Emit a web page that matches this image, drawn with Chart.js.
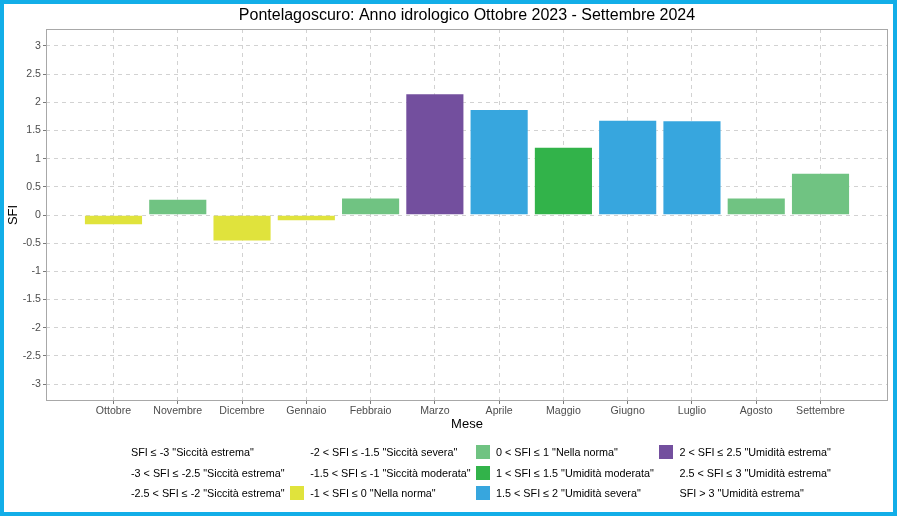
<!DOCTYPE html>
<html>
<head>
<meta charset="utf-8">
<script src="https://cdn.jsdelivr.net/npm/chart.js@4.4.1/dist/chart.umd.min.js"></script>
<style>
  body { margin: 0; background: #fff; font-family: "Liberation Sans", Arial, sans-serif; }
  #wrap { position: relative; width: 897px; height: 516px; }
  #frame { position: absolute; left: 0; top: 0; width: 897px; height: 516px; box-sizing: border-box;
           border: 4px solid #12aee8; pointer-events: none; }
  #legend { position: absolute; left: 111px; top: 441.7px; display: grid; grid-template-rows: repeat(3, 20.6px);
            grid-auto-flow: column; column-gap: 5.5px; font-size: 10.8px; color: #000; }
  .item { display: flex; align-items: center; white-space: nowrap; }
  .key { width: 14px; height: 14px; margin-right: 6px; flex: none; }
</style>
</head>
<body>
<div id="wrap">
  <canvas id="sfiChart"></canvas>
  <div id="legend"></div>
  <div id="frame"></div>
</div>
<script>
const titleText = 'Pontelagoscuro: Anno idrologico Ottobre 2023 - Settembre 2024';
const months = ['Ottobre', 'Novembre', 'Dicembre', 'Gennaio', 'Febbraio', 'Marzo',
                'Aprile', 'Maggio', 'Giugno', 'Luglio', 'Agosto', 'Settembre'];
const sfi = [-0.18, 0.29, -0.47, -0.11, 0.31, 2.16, 1.88, 1.21, 1.69, 1.68, 0.31, 0.75];
const yTicks = [-3, -2.5, -2, -1.5, -1, -0.5, 0, 0.5, 1, 1.5, 2, 2.5, 3];

// SFI classes (legend is filled column by column, 3 rows)
const classLabels = [
  'SFI ≤ -3 "Siccità estrema"',
  '-3 < SFI ≤ -2.5 "Siccità estrema"',
  '-2.5 < SFI ≤ -2 "Siccità estrema"',
  '-2 < SFI ≤ -1.5 "Siccità severa"',
  '-1.5 < SFI ≤ -1 "Siccità moderata"',
  '-1 < SFI ≤ 0 "Nella norma"',
  '0 < SFI ≤ 1 "Nella norma"',
  '1 < SFI ≤ 1.5 "Umidità moderata"',
  '1.5 < SFI ≤ 2 "Umidità severa"',
  '2 < SFI ≤ 2.5 "Umidità estrema"',
  '2.5 < SFI ≤ 3 "Umidità estrema"',
  'SFI > 3 "Umidità estrema"'
];
const classUpper = [-3, -2.5, -2, -1.5, -1, 0, 1, 1.5, 2, 2.5, 3, Infinity];
const classColors = [null, null, null, null, null, '#e0e33c', '#70c382', '#32b34a', '#37a6de', '#734f9e', null, null];

const classOf = v => classUpper.findIndex(u => v <= u);

// Legend
const legend = document.getElementById('legend');
classLabels.forEach((label, i) => {
    const bg = classColors[i] ? `background:${classColors[i]}` : '';
    legend.innerHTML += `<div class="item"><span class="key" style="${bg}"></span><span>${label}</span></div>`;
});

const panelTitle = {
    id: 'panelTitle',
    afterDraw(chart) {
        const { ctx, chartArea } = chart;
        ctx.save();
        ctx.font = '16px "Liberation Sans", Arial, sans-serif';
        ctx.fillStyle = '#000';
        ctx.textAlign = 'center';
        ctx.textBaseline = 'middle';
        ctx.fillText(titleText, (chartArea.left + chartArea.right) / 2, chartArea.top - 13.5);
        ctx.restore();
    }
};

const panelBorder = {
    id: 'panelBorder',
    afterDatasetsDraw(chart) {
        const { ctx, chartArea: a } = chart;
        ctx.save();
        ctx.strokeStyle = '#a8a8a8';
        ctx.lineWidth = 1;
        ctx.strokeRect(Math.round(a.left) + 0.5, Math.round(a.top) + 0.5,
                       Math.round(a.right - a.left) - 1, Math.round(a.bottom - a.top) - 1);
        ctx.restore();
    }
};

const font = '"Liberation Sans", Arial, sans-serif';
const gridOpts = { color: '#d2d2d2', lineWidth: 1, offset: false, drawTicks: true, tickLength: 3, tickColor: '#7a7a7a', tickBorderDash: [] };

const ctx = document.getElementById('sfiChart').getContext('2d');
new Chart(ctx, {
    type: 'bar',
    data: {
        datasets: [{
            data: sfi.map((v, i) => ({ x: i + 1, y: v })),
            backgroundColor: sfi.map(v => classColors[classOf(v)]),
            borderColor: 'rgba(255,255,255,0.4)',
            borderWidth: 1,
            categoryPercentage: 1,
            barPercentage: 0.92
        }]
    },
    options: {
        responsive: true, maintainAspectRatio: false, animation: false,
        layout: { padding: { top: 29, right: 9, bottom: 82, left: 4 } },
        plugins: { legend: { display: false }, tooltip: { enabled: false } },
        scales: {
            x: {
                type: 'linear', min: -0.05, max: 13.05, offset: false,
                afterBuildTicks: axis => { axis.ticks = months.map((m, i) => ({ value: i + 1 })); },
                afterFit: axis => { axis.height = 33; },
                grid: gridOpts,
                border: { display: false, dash: [4, 4] },
                ticks: {
                    autoSkip: false, maxRotation: 0, padding: 1, color: '#4d4d4d',
                    font: { family: font, size: 10.6 },
                    callback: v => months[v - 1] || ''
                },
                title: { display: true, text: 'Mese', color: '#000', font: { family: font, size: 13 }, padding: { top: 0, bottom: 2 } }
            },
            y: {
                min: -3.3, max: 3.3,
                afterBuildTicks: axis => { axis.ticks = yTicks.map(v => ({ value: v })); },
                afterFit: axis => { axis.width = 42; },
                grid: gridOpts,
                border: { display: false, dash: [4, 4] },
                ticks: {
                    padding: 2, color: '#4d4d4d',
                    font: { family: font, size: 10.6 },
                    callback: v => String(v)
                },
                title: { display: true, text: 'SFI', color: '#000', font: { family: font, size: 13 }, padding: { top: 1.5, bottom: 0 } }
            }
        }
    },
    plugins: [panelTitle, panelBorder]
});
</script>
</body>
</html>
